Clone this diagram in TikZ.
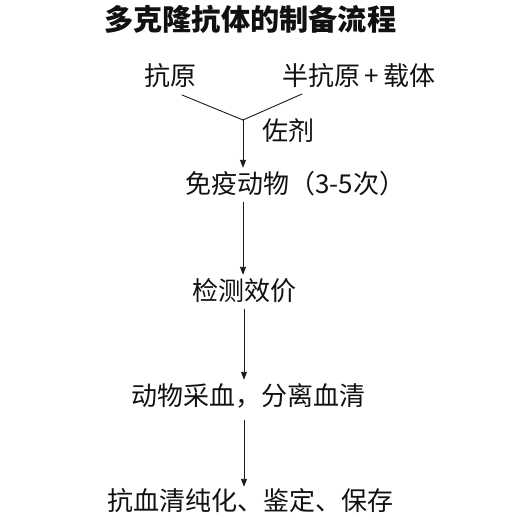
\documentclass[tikz,border=0pt]{standalone}
\usepackage{fontspec}
\setmainfont{Noto Sans CJK SC}
\usetikzlibrary{arrows.meta,calc}
\definecolor{bg}{HTML}{FFFFFF}
\definecolor{ink}{HTML}{111111}
\definecolor{wire}{HTML}{1A1A1A}

\begin{document}
\begin{tikzpicture}[x=1pt,y=-1pt,line cap=round,line join=round,
  stagetext/.style={font=\fontsize{26}{30}\selectfont,text=ink,anchor=west,inner sep=0pt,text height=23pt,text depth=3pt},
  flow/.style={-{Triangle[length=8pt,width=6pt]},line width=0.9pt,wire,shorten <=6pt,shorten >=2pt},
  merge/.style={line width=0.9pt,wire}]
  \useasboundingbox (0,0) rectangle (514,514);
  \fill[bg] (0,0) rectangle (514,514);
  \node[stagetext,font=\fontsize{29.2}{33}\selectfont\bfseries] (title) at (104,20) {多克隆抗体的制备流程};

  % ---- inputs ----
  \node[stagetext] (antigen) at (144,75) {抗原};
  \node[stagetext] (hapten) at (282,75) {半抗原\,+\,载体};
  \coordinate (A) at (182,95);
  \coordinate (H) at (302,94);
  \coordinate (J) at (243,120);
  \draw[merge] (A) -- (J);
  \draw[merge] (H) -- (J);
  \node[stagetext] (adjuvant) at (262,130) {佐剂};

  % ---- steps ----
  \node[stagetext] (immune) at (185,183) {免疫动物（3-5次）};
  \node[stagetext] (titer) at (192,290) {检测效价};
  \node[stagetext] (bleed) at (131,395) {动物采血，分离血清};
  \node[stagetext] (purify) at (107,500) {抗血清纯化、鉴定、保存};

  % ---- arrows ----
  \draw[flow,shorten <=0pt] (J) -- (J |- immune.north);
  \draw[flow] (J |- immune.south) -- (J |- titer.north);
  \draw[flow] ($(J |- titer.south)+(1,0)$) -- ($(J |- bleed.north)+(1,0)$);
  \draw[flow,shorten <=12pt,shorten >=0pt] ($(J |- bleed.south)+(1,0)$) -- ($(J |- purify.north)+(1,0)$);
\end{tikzpicture}
\end{document}
